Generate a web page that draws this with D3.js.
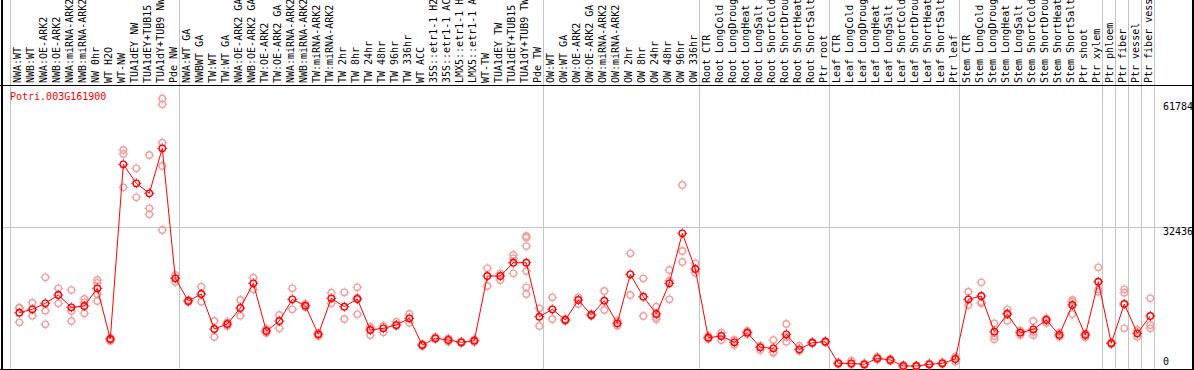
<!DOCTYPE html>
<html>
<head>
<meta charset="utf-8">
<script src="https://cdn.jsdelivr.net/npm/d3@7"></script>
<style>
  body { margin: 0; background: #fff; }
  svg { display: block; font-family: "DejaVu Sans Mono", monospace; font-size: 10px; }
</style>
</head>
<body>
<svg id="chart" width="1194" height="370"></svg>
<script>
const geneName = "Potri.003G161900";

const samples = [
  "NWA:WT", "NWB:WT", "NWA:OE-ARK2", "NWB:OE-ARK2", "NWA:miRNA-ARK2", "NWB:miRNA-ARK2",
  "NW 0hr", "WT H2O", "WT-NW", "TUA1dEY NW", "TUA1dEY+TUB15 NW", "TUA1dY+TUB9 NW", "Pde NW",
  "NWA:WT GA", "NWBWT GA", "TW:WT", "TW:WT GA", "NWA:OE-ARK2 GA", "NWB:OE-ARK2 GA",
  "TW:OE-ARK2", "TW:OE-ARK2 GA", "NWA:miRNA-ARK2", "NWB:miRNA-ARK2", "TW:miRNA-ARK2",
  "TW:miRNA-ARK2", "TW 2hr", "TW 8hr", "TW 24hr", "TW 48hr", "TW 96hr", "TW 336hr", "WT ACC",
  "35S::etr1-1 H2O", "35S::etr1-1 ACC", "LMX5::etr1-1 H2O", "LMX5::etr1-1 ACC", "WT-TW",
  "TUA1dEY TW", "TUA1dEY+TUB15 TW", "TUA1dY+TUB9 TW", "Pde TW",
  "OW:WT", "OW:WT GA", "OW:OE-ARK2", "OW:OE-ARK2 GA", "OW:miRNA-ARK2", "OW:miRNA-ARK2",
  "OW 2hr", "OW 8hr", "OW 24hr", "OW 48hr", "OW 96hr", "OW 336hr",
  "Root CTR", "Root LongCold", "Root LongDrought", "Root LongHeat", "Root LongSalt",
  "Root ShortCold", "Root ShortDrought", "Root ShortHeat", "Root ShortSalt", "Ptr root",
  "Leaf CTR", "Leaf LongCold", "Leaf LongDrought", "Leaf LongHeat", "Leaf LongSalt",
  "Leaf ShortCold", "Leaf ShortDrought", "Leaf ShortHeat", "Leaf ShortSalt", "Ptr leaf",
  "Stem CTR", "Stem LongCold", "Stem LongDrought", "Stem LongHeat", "Stem LongSalt",
  "Stem ShortCold", "Stem ShortDrought", "Stem ShortHeat", "Stem ShortSalt", "Ptr shoot",
  "Ptr xylem", "Ptr phloem", "Ptr fiber", "Ptr vessel", "Ptr fiber vessel"
];

// index of the first sample of each group (last entry = end)
const groupStarts = [0, 13, 41, 53, 63, 73, 84, 85, 86, 87, 88];

const means = [
  12860, 13640, 15010, 16900, 14090, 14390, 18430, 6850, 46750, 42410, 40130, 50410, 20720,
  15530, 17130, 9140, 10280, 13930, 19570, 8680, 10960, 15920, 14460, 7930, 16150, 14230,
  15990, 8910, 9300, 10050, 11580, 5480, 7010, 6620, 6100, 6460, 21240, 21240, 24280, 24280,
  11950, 13640, 11190, 15760, 12330, 15600, 10440, 21630, 16510, 12560, 19570, 30990, 22840,
  7150, 7540, 6100, 8290, 4960, 4730, 7930, 4500, 6010, 6240,
  1300, 1300, 1070, 2440, 2060, 690, 690, 1070, 1300, 2280,
  15920, 16670, 8520, 12560, 8290, 9070, 11190, 7770, 14620, 7770, 19940,
  5870, 14850, 8150, 12110
];

const replicates = [
  [14000, 13930, 10670], [15140, 12170], [20940, 13320, 10210], [18430, 15010],
  [18040, 13250, 10960], [15990, 15230, 12720], [20330, 19640, 17130, 15530], [7080, 6620, 6400],
  [50020, 49110, 41500], [45840, 39220], [48880, 36700, 35330],
  [61784, 60460, 51690, 46370, 31750], [21470, 20790, 19870],
  [15760, 15300], [18800, 15370], [10960, 7310], [10730, 9820], [15760, 12170], [20850, 18200],
  [9140, 8220], [12330, 9300], [18430, 13640], [14850, 14160], [8220, 7540], [17430, 15010],
  [17520, 11420], [18660, 16280, 12490], [9590, 9360, 7770], [9820, 8380], [10800, 9820],
  [12560, 10570], [5710, 5250], [7310, 6850], [7010, 6240], [6280, 5940], [6780, 6170],
  [23000, 18960], [21860, 20330], [26040, 25280, 21860],
  [30380, 29990, 28090, 22380, 18660, 17130], [13860, 9820],
  [16380, 11420], [11420, 10960], [16380, 14850], [12560, 12110], [17820, 13480], [11030, 9890],
  [26430, 16900], [20720, 12110], [14230, 11880, 11350], [22610, 20170, 15920],
  [42030, 26950, 24440], [24140, 21990],
  [7540, 6850], [8290, 6620], [6620, 5480], [8680, 7990], [5250, 4340], [6620, 3880, 3720],
  [10280, 7310, 6240], [5250, 4180], [6170, 5870], [6400, 6100],
  [1480, 1140], [1900, 1030], [1260, 910], [2740, 2170], [2280, 1830], [910, 460], [800, 570],
  [1260, 910], [1480, 1140], [2810, 1670],
  [17660, 14620], [19800, 15300, 15010], [10440, 7540, 6780], [13640, 12790, 11030],
  [8750, 7770], [10960, 8450, 7770], [11580, 10570], [8290, 7380], [15760, 15370, 12560],
  [8150, 7240], [23230, 18200, 17660],
  [6050, 5710], [18200, 17430, 9300], [8910, 7380], [16150, 10050, 9300]
];

const yTicks = [61784, 32436, 0];

const color = {
  mean: "#ff0000",
  rep: "#f0a0a0",
  grid: "#c4c4c4",
  frame: "#000"
};

const svg = d3.select("#chart"),
  width = +svg.attr("width"),
  plotTop = 85,
  plotBottom = 369;

const x = d3
  .scaleBand()
  .domain(d3.range(samples.length))
  .range([11, 11 + samples.length * 13]);

const yMax = d3.max(replicates.flat());

const y = d3
  .scaleLinear()
  .domain([0, yMax * 1.05])
  .range([plotBottom, plotTop]);

const px = (i) => x(i) + 8.3;

// group separators
svg
  .append("g")
  .selectAll("line")
  .data(groupStarts)
  .join("line")
  .attr("x1", (d) => (d < samples.length ? x(d) : x.range()[1]) - 0.5)
  .attr("x2", (d) => (d < samples.length ? x(d) : x.range()[1]) - 0.5)
  .attr("y1", 0)
  .attr("y2", plotBottom)
  .attr("stroke", color.grid)
  .attr("stroke-width", 1);

// middle grid line
svg
  .append("line")
  .attr("x1", 2)
  .attr("x2", width - 2)
  .attr("y1", Math.round(y(yTicks[1])) + 0.5)
  .attr("y2", Math.round(y(yTicks[1])) + 0.5)
  .attr("stroke", color.grid);

// sample labels
svg
  .append("g")
  .selectAll("text")
  .data(samples)
  .join("text")
  .attr("transform", (d, i) => `translate(${x(i) + 9.5},83) rotate(-90)`)
  .attr("fill", "#000")
  .text((d) => d);

// frame
svg.append("line").attr("x1", 0).attr("x2", width).attr("y1", plotTop + 0.5).attr("y2", plotTop + 0.5).attr("stroke", color.frame);
svg.append("line").attr("x1", 0).attr("x2", width).attr("y1", plotBottom + 0.5).attr("y2", plotBottom + 0.5).attr("stroke", color.frame);
svg.append("line").attr("x1", 2).attr("x2", 2).attr("y1", 0).attr("y2", 370).attr("stroke", color.frame).attr("stroke-width", 2);
svg.append("line").attr("x1", 1193).attr("x2", 1193).attr("y1", 0).attr("y2", 370).attr("stroke", color.frame).attr("stroke-width", 2);

// y labels
const tickOffset = [11, 8, -4];
svg
  .append("g")
  .selectAll("text")
  .data(yTicks)
  .join("text")
  .attr("x", 1163)
  .attr("y", (d, i) => y(d) + tickOffset[i])
  .attr("fill", "#000")
  .text((d) => d);

svg
  .append("text")
  .attr("x", 10)
  .attr("y", 100)
  .attr("fill", color.mean)
  .text(geneName);

function marker(sel, c) {
  sel
    .append("circle")
    .attr("r", 3.2)
    .attr("fill", "none")
    .attr("stroke", c)
    .attr("stroke-width", 1.4);
  sel
    .append("path")
    .attr("d", "M0,-5V-3.6M0,3.6V5M-5,0H-3.6M3.6,0H5")
    .attr("stroke", c)
    .attr("stroke-width", 1);
}

// replicate points
const repPoints = replicates.flatMap((reps, i) => reps.map((v) => ({ i: i, v: v })));

svg
  .append("g")
  .selectAll("g")
  .data(repPoints)
  .join("g")
  .attr("transform", (d) => `translate(${px(d.i)},${y(d.v)})`)
  .call(marker, color.rep);

// mean line
svg
  .append("path")
  .datum(means)
  .attr("fill", "none")
  .attr("stroke", color.mean)
  .attr("stroke-width", 1)
  .attr("d", d3.line().x((d, i) => px(i)).y((d) => y(d)));

svg
  .append("g")
  .selectAll("g")
  .data(means)
  .join("g")
  .attr("transform", (d, i) => `translate(${px(i)},${y(d)})`)
  .call(marker, color.mean);
</script>
</body>
</html>
